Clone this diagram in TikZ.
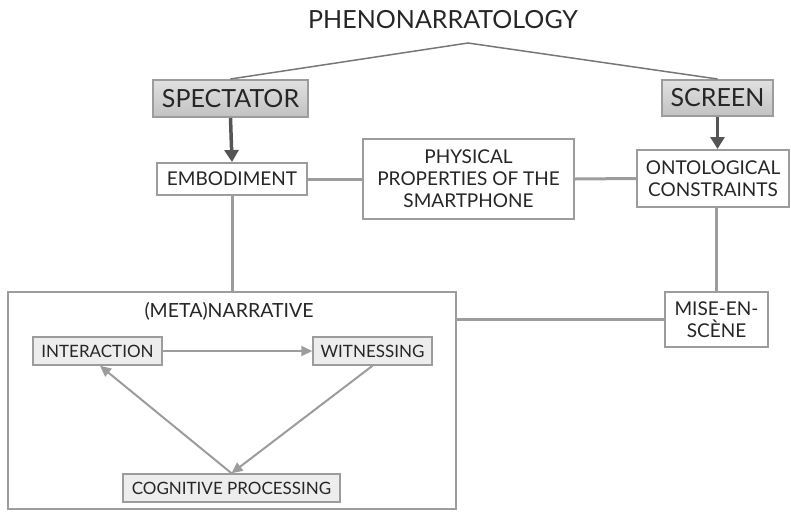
\documentclass[tikz,border=0pt]{standalone}
\usepackage{fontspec}
\setmainfont{Lato}
\usetikzlibrary{arrows.meta,calc}
\definecolor{boxline}{HTML}{9C9C9C}
\definecolor{txt}{HTML}{262626}
\definecolor{darkarrow}{HTML}{555555}
\begin{document}
\begin{tikzpicture}[x=1pt,y=-1pt,
  every node/.style={text=txt, inner sep=0pt, align=center},
  headbox/.style={draw=boxline, line width=2pt, top color=white!88!black, bottom color=white!76!black, font=\fontsize{25}{28}\selectfont},
  plainbox/.style={draw=boxline, line width=2pt, fill=white, font=\fontsize{19}{22}\selectfont},
  innerbox/.style={draw=boxline, line width=1.5pt, fill=white!93!black, font=\fontsize{17}{20}\selectfont},
  conn/.style={draw=boxline, line width=3pt},
  thickarrow/.style={draw=darkarrow, line width=3.5pt, -{Triangle[length=12pt,width=14pt]}},
  grayarrow/.style={draw=boxline, line width=2pt, -{Triangle[length=11pt,width=10pt]}},
  topline/.style={draw=darkarrow!80, line width=1.5pt}
]
\useasboundingbox (0,0) rectangle (791,511);

\node[font=\fontsize{25}{28}\selectfont] (title) at (443,20) {PHENONARRATOLOGY};
\coordinate (peak) at (468,43);

\node[headbox, minimum width=155pt, minimum height=37pt] (spectator) at (230.5,98.5) {SPECTATOR};
\node[headbox, minimum width=111pt, minimum height=36pt] (screen) at (717.5,98) {SCREEN};

\node[plainbox, minimum width=150pt, minimum height=32pt] (embodiment) at (232,179) {EMBODIMENT};
\node[plainbox, minimum width=211pt, minimum height=80pt] (physical) at (468.5,179) {PHYSICAL\\PROPERTIES OF THE\\SMARTPHONE};
\node[plainbox, minimum width=152pt, minimum height=57pt] (ontological) at (713,178.5) {ONTOLOGICAL\\CONSTRAINTS};

\node[draw=boxline, line width=2pt, minimum width=448pt, minimum height=217pt] (meta) at (232,400.5) {};
\node[font=\fontsize{19.5}{22}\selectfont] (metalabel) at (229,311) {(META)NARRATIVE};

\node[innerbox, minimum width=129pt, minimum height=28pt] (interaction) at (97.5,351) {INTERACTION};
\node[innerbox, minimum width=119pt, minimum height=28pt] (witnessing) at (372.5,351) {WITNESSING};
\node[innerbox, minimum width=217pt, minimum height=28pt] (cognitive) at (231.5,488) {COGNITIVE PROCESSING};

\node[plainbox, minimum width=103pt, minimum height=55pt] (mise) at (716.5,319.5) {MISE-EN-\\SCÈNE};

% top lines
\draw[topline] (spectator.north) -- (peak) -- (screen.north);

% thick arrows
\draw[thickarrow] (spectator.south) -- (embodiment.north);
\draw[thickarrow] (screen.south) -- (screen.south |- ontological.north);

% gray connectors
\draw[conn] (embodiment.east) -- (physical.west);
\draw[conn] (physical.east) -- (ontological.west);
\draw[conn] (embodiment.south) -- (embodiment.south |- meta.north);
\draw[conn] (mise.north |- ontological.south) -- (mise.north);
\draw[conn] (mise.west -| meta.east) -- (mise.west);

% inner arrows
\draw[grayarrow] (interaction.east) -- (witnessing.west);
\draw[grayarrow] (witnessing.south) -- (cognitive.north);
\draw[grayarrow] (cognitive.north) -- ($(interaction.south)+(2.5,0)$);
\end{tikzpicture}
\end{document}
